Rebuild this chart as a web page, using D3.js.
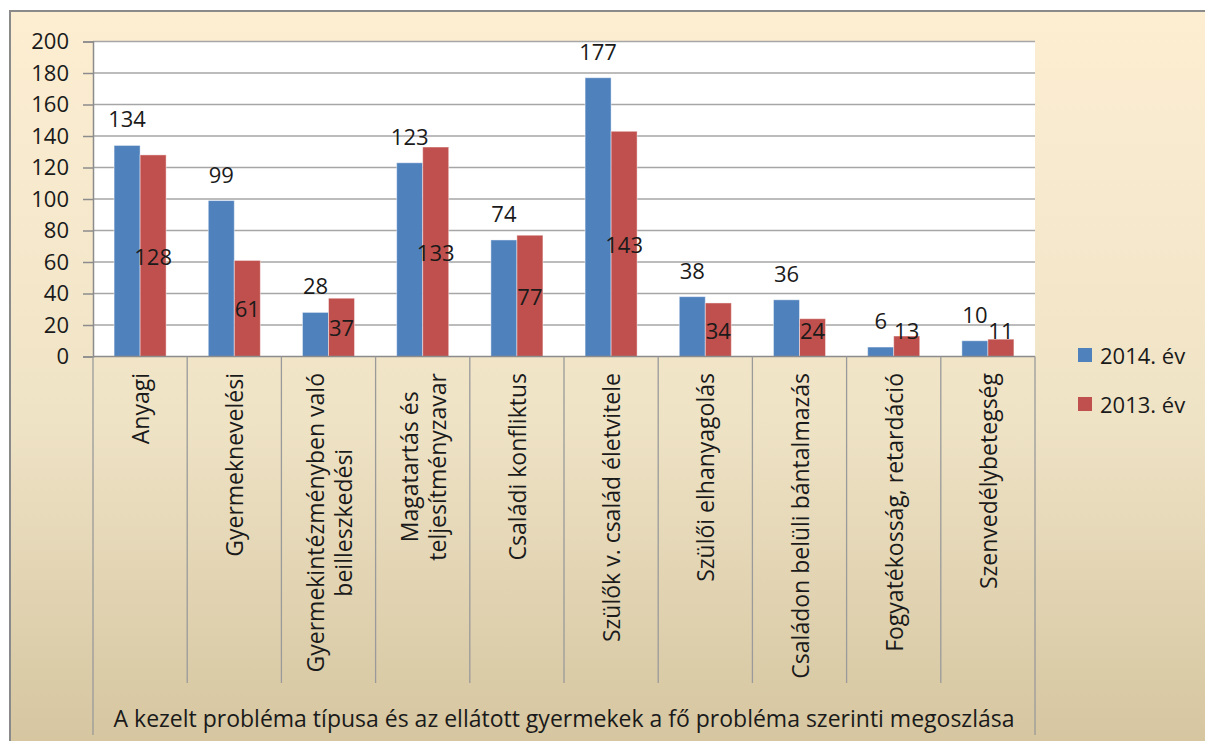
<!DOCTYPE html>
<html>
<head>
<meta charset="utf-8">
<script src="https://cdn.jsdelivr.net/npm/d3@7"></script>
<style>
  body { margin: 0; background: #fff; }
  text { font-family: "Open Sans", Lato, sans-serif; fill: #1a1a1a; }
</style>
</head>
<body>
<div id="vis"></div>
<script>
// setting constants
const FRAME_WIDTH = 1205;
const FRAME_HEIGHT = 741;
const PLOT = {left: 93, right: 1035, top: 41.5, bottom: 356.5};
const FONT = "\"Open Sans\", Lato, sans-serif";

// data
const categories = ["Anyagi", "Gyermeknevelési", "Gyermekintézményben való\nbeilleszkedési",
  "Magatartás és\nteljesítményzavar", "Családi konfliktus", "Szülők v. család életvitele",
  "Szülői elhanyagolás", "Családon belüli bántalmazás", "Fogyatékosság, retardáció",
  "Szenvedélybetegség"];
const seriesNames = ["2014. év", "2013. év"];
const values2014 = [134, 99, 28, 123, 74, 177, 38, 36, 6, 10];
const values2013 = [128, 61, 37, 133, 77, 143, 34, 24, 13, 11];
const yTicks = [0, 20, 40, 60, 80, 100, 120, 140, 160, 180, 200];
const outerLabel = "A kezelt probléma típusa és az ellátott gyermekek a fő probléma szerinti megoszlása";

const COLORS = {"2014. év": "#4f81bd", "2013. év": "#c0504d"};

const rows = categories.map((c, i) => ({cat: c, vals: [
  {s: seriesNames[0], v: values2014[i]},
  {s: seriesNames[1], v: values2013[i]}
]}));

// frame
const FRAME = d3.select("#vis")
  .append("svg")
  .attr("width", FRAME_WIDTH)
  .attr("height", FRAME_HEIGHT);

const grad = FRAME.append("defs").append("linearGradient")
  .attr("id", "bg").attr("x1", 0).attr("y1", 0).attr("x2", 0).attr("y2", 1);
grad.append("stop").attr("offset", "0%").attr("stop-color", "#fdeed2");
grad.append("stop").attr("offset", "55%").attr("stop-color", "#efe3c6");
grad.append("stop").attr("offset", "100%").attr("stop-color", "#d5c59f");

// chart area background + border
FRAME.append("rect")
  .attr("x", 10).attr("y", 11)
  .attr("width", FRAME_WIDTH).attr("height", FRAME_HEIGHT)
  .attr("fill", "url(#bg)")
  .attr("stroke", "#8a8a8a").attr("stroke-width", 2);

// plot area
FRAME.append("rect")
  .attr("x", PLOT.left).attr("y", PLOT.top)
  .attr("width", PLOT.right - PLOT.left).attr("height", PLOT.bottom - PLOT.top)
  .attr("fill", "#fff");

// scales
const Y_SCALE = d3.scaleLinear().domain([0, 200]).range([PLOT.bottom, PLOT.top]);
const X_SCALE = d3.scaleBand().domain(categories).range([PLOT.left, PLOT.right]);
const X_INNER = d3.scaleBand().domain(seriesNames)
  .range([0, X_SCALE.bandwidth()]).paddingOuter(0.81);

// gridlines
FRAME.append("g")
  .selectAll("line")
  .data(yTicks.filter(d => d > 0))
  .enter()
  .append("line")
    .attr("x1", PLOT.left).attr("x2", PLOT.right)
    .attr("y1", d => Y_SCALE(d)).attr("y2", d => Y_SCALE(d))
    .attr("stroke", "#a6a6a6").attr("stroke-width", 1.6);

// y axis
const yAxis = FRAME.append("g")
  .attr("transform", "translate(" + PLOT.left + ",0)")
  .call(d3.axisLeft(Y_SCALE).tickValues(yTicks).tickSize(10).tickPadding(14));
yAxis.select(".domain").attr("stroke", "#8c8c8c").attr("stroke-width", 1.5);
yAxis.selectAll(".tick line").attr("stroke", "#8c8c8c").attr("stroke-width", 1.5);
yAxis.selectAll(".tick text")
  .attr("font-size", "22px")
  .style("font-family", FONT)
  .attr("fill", "#1a1a1a");

// bars
const groups = FRAME.append("g")
  .selectAll("g")
  .data(rows)
  .enter()
  .append("g")
    .attr("transform", d => "translate(" + X_SCALE(d.cat) + ",0)");

groups.selectAll("rect")
  .data(d => d.vals)
  .enter()
  .append("rect")
    .attr("x", d => X_INNER(d.s))
    .attr("y", d => Y_SCALE(d.v))
    .attr("width", X_INNER.bandwidth())
    .attr("height", d => Y_SCALE(0) - Y_SCALE(d.v))
    .attr("fill", d => COLORS[d.s])
    .attr("stroke", "rgba(255,255,255,0.45)")
    .attr("stroke-width", 1);

// data labels: 2014 above bar, 2013 in bar middle
groups.selectAll("text.val")
  .data(d => d.vals)
  .enter()
  .append("text")
    .attr("class", "val")
    .attr("x", d => X_INNER(d.s) + X_INNER.bandwidth() / 2)
    .attr("y", d => d.s === seriesNames[0]
      ? Y_SCALE(d.v) - 27
      : Math.min(Y_SCALE(d.v / 2), Y_SCALE(0) - 27))
    .attr("text-anchor", "middle")
    .attr("dominant-baseline", "central")
    .attr("font-size", "22px")
    .text(d => d.v);

// x axis line
FRAME.append("line")
  .attr("x1", PLOT.left).attr("x2", PLOT.right)
  .attr("y1", PLOT.bottom).attr("y2", PLOT.bottom)
  .attr("stroke", "#8c8c8c").attr("stroke-width", 1.5);

// category separators
const bounds = categories.map(c => X_SCALE(c)).concat([PLOT.right]);
FRAME.append("g")
  .selectAll("line")
  .data(bounds)
  .enter()
  .append("line")
    .attr("x1", d => d).attr("x2", d => d)
    .attr("y1", PLOT.bottom)
    .attr("y2", (d, i) => (i === 0 || i === bounds.length - 1) ? 735 : 683)
    .attr("stroke", "#9a9a9a").attr("stroke-width", 1.3);

// category labels (rotated, multi-line centred)
const LINE_H = 28;
const LABEL_TOP = 373;
categories.forEach(c => {
  const lines = c.split("\n");
  const cx = X_SCALE(c) + X_SCALE.bandwidth() / 2;
  const g = FRAME.append("g");
  const texts = lines.map((ln, i) => g.append("text")
    .attr("text-anchor", "middle")
    .attr("dominant-baseline", "central")
    .attr("font-size", "23px")
    .attr("y", (i - (lines.length - 1) / 2) * LINE_H)
    .text(ln));
  const L = d3.max(texts, t => t.node().getComputedTextLength());
  g.attr("transform", "translate(" + cx + "," + (LABEL_TOP + L / 2) + ") rotate(-90)");
});

// outer category label
FRAME.append("text")
  .attr("x", (PLOT.left + PLOT.right) / 2)
  .attr("y", 718)
  .attr("text-anchor", "middle")
  .attr("dominant-baseline", "central")
  .attr("font-size", "23px")
  .text(outerLabel);

// legend
const legend = FRAME.append("g")
  .selectAll("g")
  .data(seriesNames)
  .enter()
  .append("g")
    .attr("transform", (d, i) => "translate(1078," + (348 + i * 49) + ")");
legend.append("rect")
  .attr("width", 14).attr("height", 14)
  .attr("fill", d => COLORS[d]);
legend.append("text")
  .attr("x", 22).attr("y", 7)
  .attr("dominant-baseline", "central")
  .attr("font-size", "22px")
  .text(d => d);
</script>
</body>
</html>
